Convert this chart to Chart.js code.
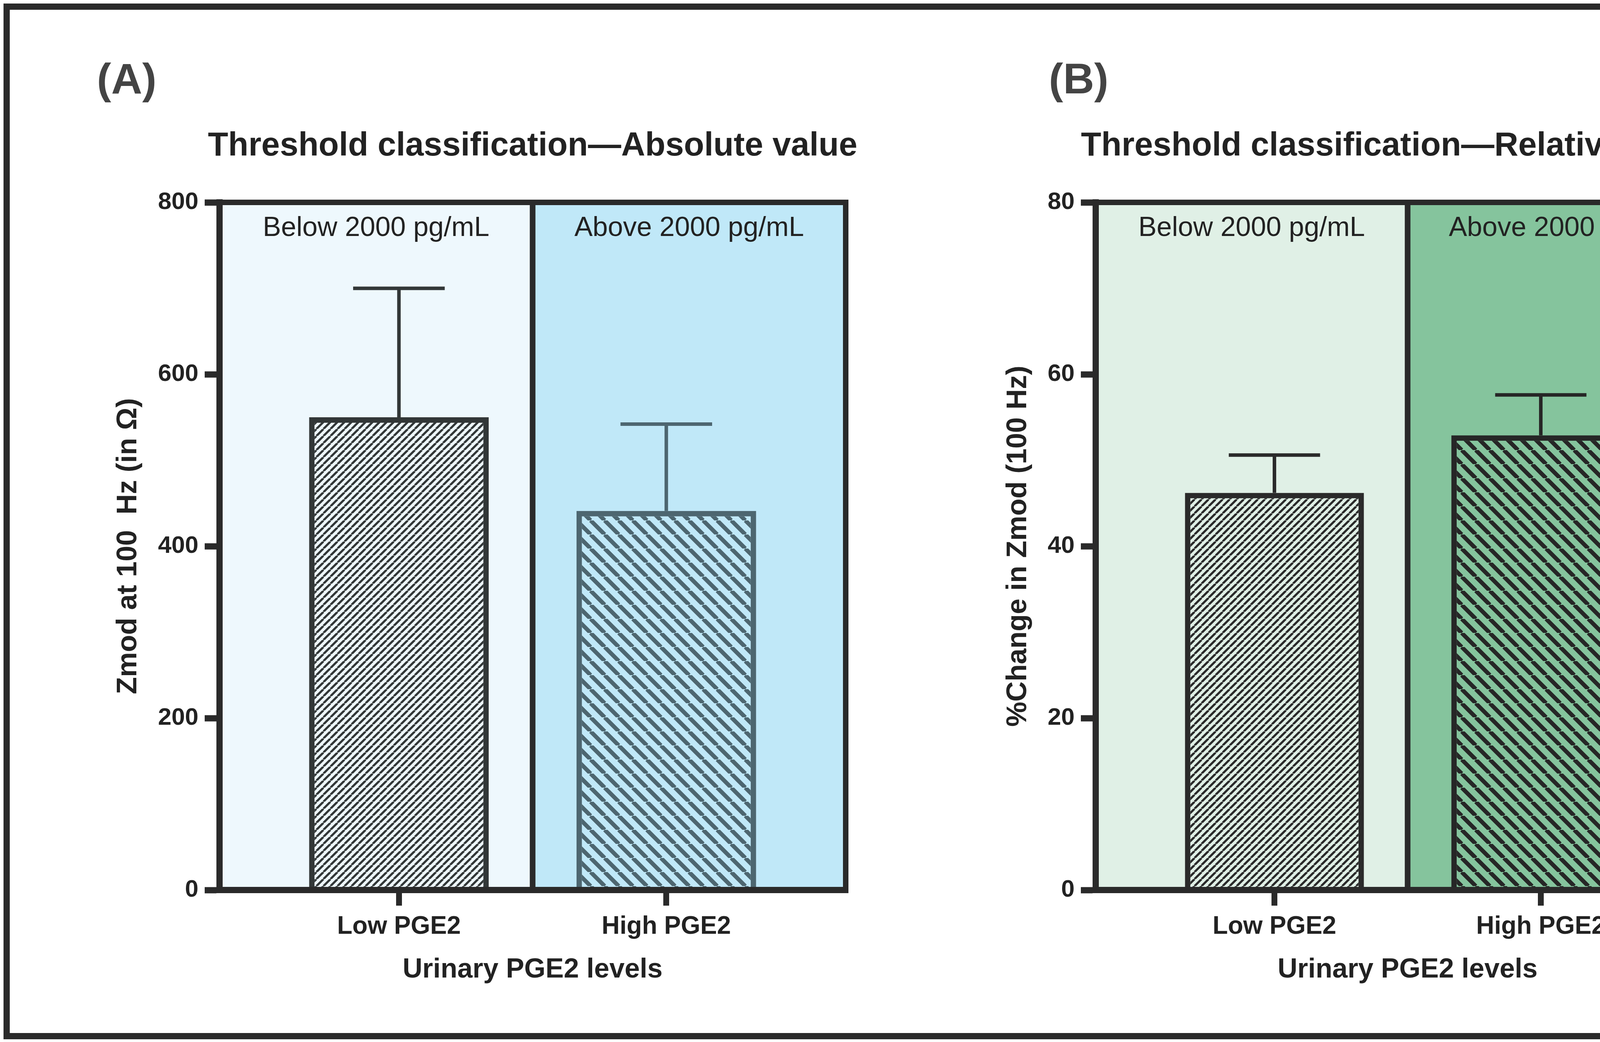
<!DOCTYPE html>
<html>
<head>
<meta charset="utf-8">
<title>Threshold classification</title>
<script src="https://cdn.jsdelivr.net/npm/chart.js@4.4.1/dist/chart.umd.min.js"></script>
<style>
  html, body { margin: 0; padding: 0; background: #fff; }
  body { width: 4892px; height: 2667px; position: relative; overflow: hidden; }
  #frame { position: absolute; left: 9px; top: 9px; width: 4876px; height: 2651px;
           box-sizing: border-box; border: 16px solid #2a2a2a; }
  .panel { position: absolute; top: 0; width: 2446px; height: 2667px; }
</style>
</head>
<body>
<div id="frame"></div>
<div class="panel" style="left:0"><canvas id="chartA"></canvas></div>
<div class="panel" style="left:2446px"><canvas id="chartB"></canvas></div>
<script>
// ---- data ----
const groups = ['Low PGE2', 'High PGE2'];
const bandLabels = ['Below 2000 pg/mL', 'Above 2000 pg/mL'];

const absMean = [550, 441];   // Zmod at 100 Hz (ohm)
const absErr  = [150, 101];   // upper error bar length

const relMean = [46.2, 52.9]; // % change in Zmod
const relErr  = [4.4, 4.7];

const FONT = "'Liberation Sans', Arial, Helvetica, sans-serif";
const DARK = '#2a2a2a';
const TEXT = '#222222';

Chart.defaults.font.family = FONT;
Chart.defaults.color = TEXT;

// diagonal hatch fill, dir '/' or '\'
function hatch(ctx, bg, fg, step, width, dir) {
  const c = document.createElement('canvas');
  c.width = c.height = step;
  const g = c.getContext('2d');
  g.fillStyle = bg;
  g.fillRect(0, 0, step, step);
  g.strokeStyle = fg;
  g.lineWidth = width;
  g.beginPath();
  for (const o of [-step, 0, step]) {
    if (dir === '/') { g.moveTo(o, step); g.lineTo(o + step, 0); }
    else { g.moveTo(o, 0); g.lineTo(o + step, step); }
  }
  g.stroke();
  return ctx.createPattern(c, 'repeat');
}

// bands, frame, error bars, titles
const panelDecor = {
  id: 'panelDecor',
  beforeDraw(chart, args, o) {
    const { ctx, chartArea: a, scales: { x } } = chart;
    const edges = [x.min, (groups.length - 1) / 2, x.max].map(v => x.getPixelForValue(v));
    ctx.save();
    o.bandFills.forEach((fill, i) => {
      ctx.fillStyle = fill;
      ctx.fillRect(edges[i], a.top, edges[i + 1] - edges[i], a.bottom - a.top);
    });
    ctx.restore();
  },
  afterDatasetsDraw(chart, args, o) {
    const { ctx, chartArea: a, scales: { x, y } } = chart;
    const edges = [x.min, (groups.length - 1) / 2, x.max].map(v => x.getPixelForValue(v));
    ctx.save();

    // error bars (upper only)
    chart.data.datasets.forEach((ds, di) => {
      chart.getDatasetMeta(di).data.forEach((bar, i) => {
        const top = y.getPixelForValue(ds.data[i].y + ds.errors[i]);
        const half = bar.width * 0.255;
        ctx.strokeStyle = o.errColors[i];
        ctx.lineWidth = 9;
        ctx.beginPath();
        ctx.moveTo(bar.x, bar.y);
        ctx.lineTo(bar.x, top);
        ctx.moveTo(bar.x - half, top);
        ctx.lineTo(bar.x + half, top);
        ctx.stroke();
      });
    });

    // band frames + baseline
    ctx.strokeStyle = DARK;
    ctx.lineWidth = 14;
    for (let i = 0; i < 2; i++) {
      ctx.strokeRect(edges[i], a.top, edges[i + 1] - edges[i], a.bottom - a.top);
    }
    ctx.lineWidth = 16;
    ctx.beginPath();
    ctx.moveTo(a.left - 8, a.bottom);
    ctx.lineTo(a.right + 7, a.bottom);
    ctx.stroke();

    // band labels
    ctx.fillStyle = TEXT;
    ctx.font = `70px ${FONT}`;
    ctx.textAlign = 'center';
    ctx.textBaseline = 'alphabetic';
    bandLabels.forEach((t, i) => ctx.fillText(t, (edges[i] + edges[i + 1]) / 2, a.top + 86));
    ctx.restore();
  },
  afterDraw(chart, args, o) {
    const { ctx, chartArea: a } = chart;
    ctx.save();
    ctx.textBaseline = 'alphabetic';
    ctx.fillStyle = '#444444';
    ctx.font = `bold 110px ${FONT}`;
    ctx.textAlign = 'left';
    ctx.fillText(o.letter, o.letterX, 239);
    ctx.fillStyle = TEXT;
    ctx.font = `bold 85px ${FONT}`;
    ctx.textAlign = 'center';
    ctx.fillText(o.title, (a.left + a.right) / 2, a.top - 120);
    ctx.restore();
  }
};

function makeChart(id, cfg) {
  const el = document.getElementById(id);
  const ctx = el.getContext('2d');
  return new Chart(el, {
    type: 'bar',
    data: {
      datasets: [{
        data: cfg.mean.map((v, i) => ({ x: i, y: v })),
        errors: cfg.err,
        backgroundColor: cfg.hatches.map(h => hatch(ctx, ...h)),
        borderColor: cfg.barBorders,
        borderWidth: 14,
        categoryPercentage: 1,
        barPercentage: 0.672,
      }]
    },
    options: {
      responsive: true,
      maintainAspectRatio: false,
      animation: false,
      devicePixelRatio: 1,
      layout: { padding: cfg.pad },
      plugins: {
        legend: { display: false },
        tooltip: { enabled: false },
        panelDecor: cfg.decor,
      },
      scales: {
        x: {
          type: 'linear',
          min: -0.671,
          max: 1.671,
          offset: false,
          afterBuildTicks: s => { s.ticks = groups.map((_, i) => ({ value: i })); },
          afterFit: s => { s.height = 247; },
          ticks: {
            callback: (v, i) => groups[i],
            font: { size: 64, weight: 'bold' },
            color: TEXT,
            padding: 16,
            autoSkip: false,
            maxRotation: 0,
          },
          grid: { offset: false, drawOnChartArea: false, tickLength: 40, tickWidth: 15, tickColor: DARK },
          border: { display: true, width: 16, color: DARK },
          title: {
            display: true, text: 'Urinary PGE2 levels', color: TEXT,
            font: { size: 70, weight: 'bold' }, padding: { top: 0, bottom: 0 },
          },
        },
        y: {
          min: 0,
          max: cfg.yMax,
          afterFit: s => { s.width = cfg.yWidth; },
          ticks: { stepSize: cfg.yStep, font: { size: 62, weight: 'bold' }, color: TEXT, padding: 16 },
          grid: { drawOnChartArea: false, tickLength: 38, tickWidth: 16, tickColor: DARK },
          border: { display: true, width: 16, color: DARK },
          title: {
            display: true, text: cfg.yTitle, color: TEXT,
            font: { size: 72, weight: 'bold' }, padding: { top: cfg.yTitlePad, bottom: 0 },
          },
        },
      },
    },
    plugins: [panelDecor],
  });
}

// (A) absolute values
makeChart('chartA', {
  mean: absMean,
  err: absErr,
  yMax: 800, yStep: 200,
  yTitle: 'Zmod at 100  Hz (in Ω)',
  yWidth: 312, yTitlePad: 36,
  pad: { left: 250, right: 281, top: 518, bottom: 142 },
  hatches: [
    ['#eef8fd', '#323737', 18, 5.5, '/'],
    ['#c0e8f8', '#4d6670', 36, 10.5, '\\'],
  ],
  barBorders: ['#323737', '#4d6670'],
  decor: {
    letter: '(A)', letterX: 248,
    title: 'Threshold classification—Absolute value',
    bandFills: ['#eef8fd', '#c0e8f8'],
    errColors: ['#323737', '#4d6670'],
  },
});

// (B) relative values
makeChart('chartB', {
  mean: relMean,
  err: relErr,
  yMax: 80, yStep: 20,
  yTitle: '%Change in Zmod (100 Hz)',
  yWidth: 279, yTitlePad: 38,
  pad: { left: 80, right: 490, top: 518, bottom: 142 },
  hatches: [
    ['#e0f0e6', '#2a2a2a', 18, 5.5, '/'],
    ['#85c49d', '#262626', 36, 10.5, '\\'],
  ],
  barBorders: ['#2a2a2a', '#262626'],
  decor: {
    letter: '(B)', letterX: 239,
    title: 'Threshold classification—Relative values',
    bandFills: ['#e0f0e6', '#85c49d'],
    errColors: ['#2a2a2a', '#262626'],
  },
});
</script>
</body>
</html>
